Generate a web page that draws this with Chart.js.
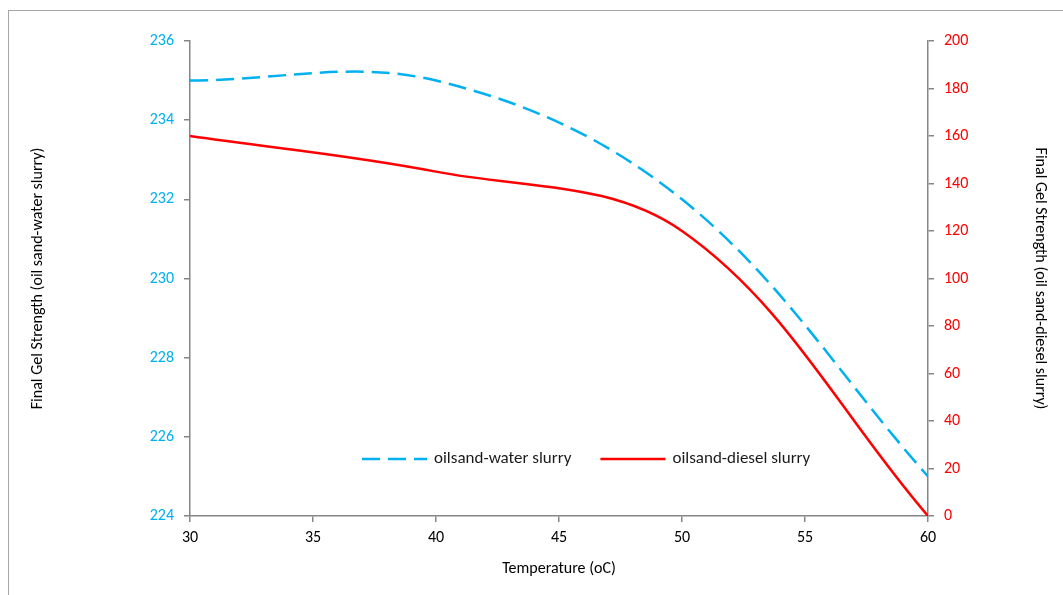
<!DOCTYPE html>
<html>
<head>
<meta charset="utf-8">
<script src="https://cdn.jsdelivr.net/npm/chart.js@4"></script>
<style>
    html, body { margin: 0; padding: 0; background: #fff; overflow: hidden; }
    #frame { position: absolute; left: 8px; top: 10px; width: 1200px; height: 700px; border: 1px solid #a6a6a6; }
    #gelChart { position: absolute; left: 0; top: 0; }
</style>
</head>
<body>
<div id="frame"></div>
<canvas id="gelChart" width="1063" height="595"></canvas>
<script>
    // values
    var temperature = [30, 40, 50, 60];
    var waterSlurry = [235, 235, 232, 225];
    var dieselSlurry = [160, 145, 120, 0];

    var xTicks = { min: 30, max: 60, step: 5 };
    var leftTicks = { min: 224, max: 236, step: 2 };
    var rightTicks = { min: 0, max: 200, step: 20 };

    var blue = '#00B0F0';
    var red = '#FF0000';
    var axisGray = '#868686';
    var fontName = 'Carlito, Calibri, Lato, sans-serif';

    function toPoints(xs, ys) {
        return xs.map(function (x, i) {
            return { x: x, y: ys[i] };
        });
    }

    // legend sits inside the plot, near the bottom
    var insideLegend = {
        id: 'insideLegend',
        afterDraw: function (chart) {
            var ctx = chart.ctx;
            var area = chart.chartArea;
            var y = area.bottom - 57;
            var x = area.left + 172;
            ctx.save();
            ctx.font = '17px ' + fontName;
            ctx.textBaseline = 'middle';
            chart.data.datasets.forEach(function (ds) {
                ctx.strokeStyle = ds.borderColor;
                ctx.lineWidth = ds.borderWidth;
                ctx.setLineDash(ds.borderDash || []);
                ctx.beginPath();
                ctx.moveTo(x, y);
                ctx.lineTo(x + 65, y);
                ctx.stroke();
                ctx.setLineDash([]);
                ctx.fillStyle = '#1a1a1a';
                ctx.fillText(ds.label, x + 72, y);
                x += 72 + ctx.measureText(ds.label).width + 29;
            });
            ctx.restore();
        }
    };

    var ctx = document.getElementById('gelChart');
    var gelChart = new Chart(ctx, {
        type: 'line',
        data: {
            datasets: [{
                label: 'oilsand-water slurry',
                data: toPoints(temperature, waterSlurry),
                yAxisID: 'y',
                borderColor: blue,
                borderWidth: 2.5,
                borderDash: [18, 8],
                tension: 0.36,
                pointRadius: 0,
                fill: false
            }, {
                label: 'oilsand-diesel slurry',
                data: toPoints(temperature, dieselSlurry),
                yAxisID: 'y1',
                borderColor: red,
                borderWidth: 2.5,
                tension: 0.36,
                pointRadius: 0,
                fill: false
            }]
        },
        options: {
            responsive: false,
            animation: false,
            devicePixelRatio: 1,
            layout: { padding: { top: 41, left: 0, right: 0, bottom: 0 } },
            plugins: {
                legend: { display: false },
                tooltip: { enabled: false }
            },
            scales: {
                x: {
                    type: 'linear',
                    min: xTicks.min,
                    max: xTicks.max,
                    afterFit: function (scale) { scale.height = 79; },
                    border: { color: axisGray, width: 1.5 },
                    grid: { drawOnChartArea: false, color: axisGray, tickLength: 6, lineWidth: 1.5 },
                    ticks: { stepSize: xTicks.step, color: '#000', padding: 6, font: { family: fontName, size: 16 } },
                    title: { display: true, text: 'Temperature (oC)', color: '#000', padding: { top: 0, bottom: 16 }, font: { family: fontName, size: 16 } }
                },
                y: {
                    position: 'left',
                    min: leftTicks.min,
                    max: leftTicks.max,
                    afterFit: function (scale) { scale.width = 190; },
                    border: { color: axisGray, width: 1.5 },
                    grid: { drawOnChartArea: false, color: axisGray, tickLength: 6, lineWidth: 1.5 },
                    ticks: { stepSize: leftTicks.step, color: blue, padding: 10, font: { family: fontName, size: 16 } },
                    title: { display: true, text: 'Final Gel Strength (oil sand-water slurry)', color: '#000', padding: { top: 28, bottom: 0 }, font: { family: fontName, size: 16 } }
                },
                y1: {
                    position: 'right',
                    min: rightTicks.min,
                    max: rightTicks.max,
                    afterFit: function (scale) { scale.width = 135; },
                    border: { color: axisGray, width: 1.5 },
                    grid: { drawOnChartArea: false, color: axisGray, tickLength: 6, lineWidth: 1.5 },
                    ticks: { stepSize: rightTicks.step, color: red, padding: 10, font: { family: fontName, size: 16 } },
                    title: { display: true, text: 'Final Gel Strength (oil sand-diesel slurry)', color: '#000', padding: { top: 13, bottom: 0 }, font: { family: fontName, size: 16 } }
                }
            }
        },
        plugins: [insideLegend]
    });
</script>
</body>
</html>
